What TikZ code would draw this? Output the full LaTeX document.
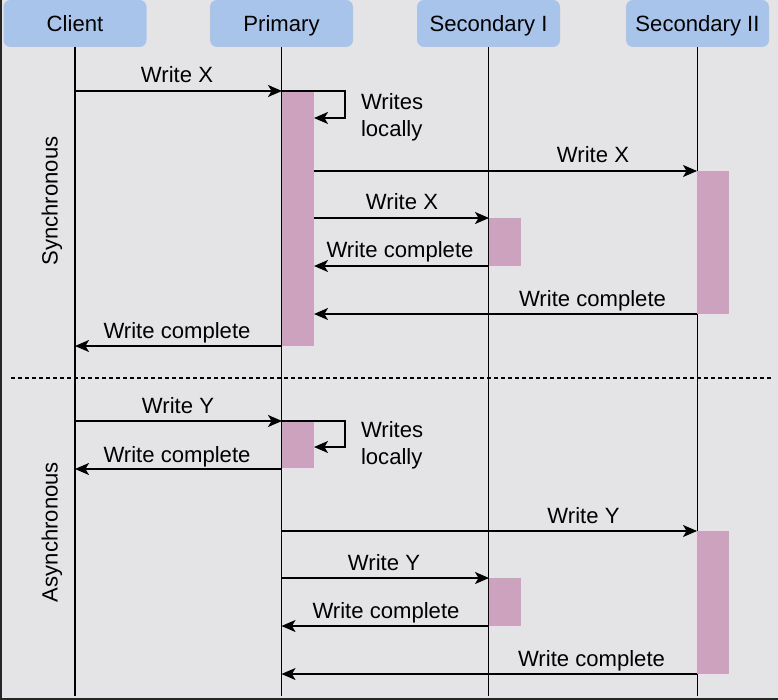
\documentclass[tikz,border=0pt]{standalone}
\usepackage{fontspec}
\setmainfont{Liberation Sans}
\usetikzlibrary{arrows.meta}
\definecolor{bgc}{RGB}{228,228,230}
\definecolor{hdr}{RGB}{169,196,235}
\definecolor{act}{RGB}{205,162,190}
\begin{document}
\begin{tikzpicture}[x=1pt,y=-1pt,
  every node/.style={font=\fontsize{22.1}{26.7}\selectfont, inner sep=0pt, outer sep=0pt},
  hdrbox/.style={fill=hdr, rounded corners=7pt, minimum width=143pt, minimum height=47pt, text height=15.8pt, text depth=0pt},
  actbox/.style={fill=act, anchor=north west, minimum width=32pt},
  life/.style={line width=1.4pt},
  msg/.style={line width=1.4pt, -{Stealth[length=14pt,width=12pt,inset=3.5pt]}},
  lbl/.style={anchor=base},
  loopbl/.style={align=left, anchor=north west}]
% background
\fill[black!85] (0,0) rectangle (778,700);
\fill[bgc] (2,0) rectangle (778,698);
\useasboundingbox (0,0) rectangle (778,700);

% headers
\node[hdrbox] (c)  at (75,23.5)  {Client};
\node[hdrbox] (p)  at (281.5,23.5) {Primary};
\node[hdrbox] (s1) at (488.5,23.5) {Secondary I};
\node[hdrbox] (s2) at (697.5,23.5) {Secondary II};

% lifeline ends
\coordinate (ce)  at (75,696);
\coordinate (pe)  at (281.5,696);
\coordinate (s1e) at (488.5,696);
\coordinate (s2e) at (697.5,696);
\draw[life] (c) -- (ce);
\draw[life] (p) -- (pe);
\draw[life] (s1) -- (s1e);
\draw[life] (s2) -- (s2e);

% activation boxes
\node[actbox, minimum height=255pt] (pa1)  at (282,91)  {};
\node[actbox, minimum height=143pt] (s2a1) at (697,171) {};
\node[actbox, minimum height=48pt]  (s1a1) at (489,218) {};
\node[actbox, minimum height=47pt]  (pa2)  at (282,421) {};
\node[actbox, minimum height=143pt] (s2a2) at (697,531) {};
\node[actbox, minimum height=48pt]  (s1a2) at (489,578) {};

% dashed separator
\coordinate (dl) at (11,378);
\coordinate (dr) at (772,378);
\draw[line width=1.4pt, dash pattern=on 4pt off 3pt] (dl) -- (dr);

% section labels
\node[rotate=90] (sync)  at (52,201) {Synchronous};
\node[rotate=90] (async) at (52,532) {Asynchronous};

% ---------- synchronous ----------
\coordinate (c1) at (75,91);
\draw[msg] (c1) -- (pa1.north west);
\node[lbl] (l1) at (177,83) {Write X};

\coordinate (lp1) at (345,118);
\draw[msg, line join=miter] (pa1.north west) -| (lp1) -- (lp1 -| pa1.east);
\node[loopbl] (w1) at (361,93.3) {Writes\\locally};

\draw[msg] (pa1.east |- s2a1.north west) -- (s2a1.north west);
\node[lbl] (l2) at (593,163) {Write X};

\draw[msg] (pa1.east |- s1a1.north west) -- (s1a1.north west);
\node[lbl] (l3) at (402,210) {Write X};

\draw[msg] (s1a1.south west) -- (s1a1.south west -| pa1.east);
\node[lbl] (l4) at (400,258) {Write complete};

\draw[msg] (s2a1.south west) -- (s2a1.south west -| pa1.east);
\node[lbl] (l5) at (592.5,306) {Write complete};

\coordinate (c2) at (75,346);
\draw[msg] (pa1.south west) -- (c2);
\node[lbl] (l6) at (177,338) {Write complete};

% ---------- asynchronous ----------
\coordinate (c3) at (75,421);
\draw[msg] (c3) -- (pa2.north west);
\node[lbl] (l7) at (178,413) {Write Y};

\coordinate (lp2) at (345,447);
\draw[msg, line join=miter] (pa2.north west) -| (lp2) -- (lp2 -| pa2.east);
\node[loopbl] (w2) at (361,421.3) {Writes\\locally};

\coordinate (c4) at (75,469);
\coordinate (p4) at (281.5,469);
\draw[msg] (p4) -- (c4);
\node[lbl] (l8) at (177,462) {Write complete};

\coordinate (p5) at (281.5,531);
\draw[msg] (p5) -- (s2a2.north west);
\node[lbl] (l9) at (583.5,523) {Write Y};

\coordinate (p6) at (281.5,578);
\draw[msg] (p6) -- (s1a2.north west);
\node[lbl] (l10) at (384,570) {Write Y};

\coordinate (p7) at (281.5,626);
\draw[msg] (s1a2.south west) -- (p7);
\node[lbl] (l11) at (386,618) {Write complete};

\coordinate (p8) at (281.5,674);
\draw[msg] (s2a2.south west) -- (p8);
\node[lbl] (l12) at (591.5,666) {Write complete};
\end{tikzpicture}
\end{document}
